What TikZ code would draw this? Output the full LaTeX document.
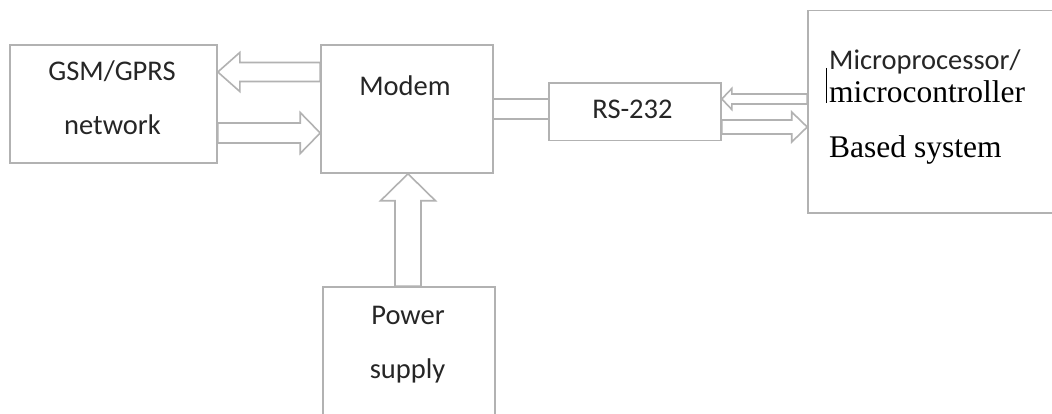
\documentclass[tikz,border=0pt]{standalone}
\usepackage{fontspec}
\setmainfont{Carlito}
\newfontfamily\timesfont{Liberation Serif}
\usepackage{tikz}
\usetikzlibrary{calc}
\usepackage{xcolor}

\definecolor{boxgray}{RGB}{178,178,178}
\definecolor{txtgray}{RGB}{38,38,38}

\tikzset{
    blockbox/.style={draw=boxgray, line width=1.6pt, rectangle, inner sep=0pt},
    blockarr/.style={draw=boxgray, line width=1.6pt, line join=miter, fill=white},
    conn/.style={draw=boxgray, line width=1.6pt},
    lbl/.style={font=\fontsize{28.5}{34}\selectfont, text=txtgray, inner sep=0pt, anchor=base},
    serlbl/.style={font=\timesfont\fontsize{31.5}{36}\selectfont, text=black, inner sep=0pt, anchor=base west}
}

% hollow block arrow: tail, tip, shaft half width, head half width, head length
\newcommand{\hollowarrow}[5]{%
    \coordinate (at) at (#1);
    \coordinate (ah) at (#2);
    \coordinate (hb) at ($(ah)!#5!(at)$);
    \draw[blockarr] (ah) -- ($(hb)!#4!90:(ah)$) -- ($(hb)!#3!90:(ah)$) -- ($(at)!#3!90:(ah)$)
        -- ($(at)!#3!-90:(ah)$) -- ($(hb)!#3!-90:(ah)$) -- ($(hb)!#4!-90:(ah)$) -- cycle;
}

\begin{document}
\begin{tikzpicture}[x=1pt, y=-1pt]
    \clip (0,0) rectangle (1052,414);
    \fill[white] (0,0) rectangle (1052,414);

    % Boxes
    \node[blockbox, minimum width=207pt, minimum height=118pt] (gsm) at (113.5,104) {};
    \node[blockbox, minimum width=172pt, minimum height=128pt] (modem) at (407,109) {};
    \node[blockbox, minimum width=172pt, minimum height=57.4pt] (rs) at (635,112) {};
    \node[blockbox, minimum width=254pt, minimum height=202.6pt] (micro) at (935,112) {};
    \node[blockbox, minimum width=172pt, minimum height=138pt] (power) at (409,356) {};

    % Rows and columns of the arrows
    \coordinate (r1) at (0,72);
    \coordinate (r2) at (0,133);
    \coordinate (r3) at (0,99.3);
    \coordinate (r4) at (0,119.3);
    \coordinate (r5) at (0,99);
    \coordinate (r6) at (0,127);
    \coordinate (c1) at (408,0);

    % Modem <-> GSM/GPRS network
    \hollowarrow{modem.west |- r1}{gsm.east |- r1}{9.5pt}{19.5pt}{22pt}
    \hollowarrow{gsm.east |- r2}{modem.west |- r2}{10pt}{20.5pt}{20pt}

    % Modem -- RS-232
    \draw[conn] (modem.east |- r3) -- (rs.west |- r3);
    \draw[conn] (modem.east |- r4) -- (rs.west |- r4);

    % RS-232 <-> microcontroller
    \hollowarrow{micro.west |- r5}{rs.east |- r5}{5pt}{10.5pt}{10pt}
    \hollowarrow{rs.east |- r6}{micro.west |- r6}{7pt}{15pt}{15.5pt}

    % Power supply -> Modem
    \hollowarrow{power.north -| c1}{modem.south -| c1}{13pt}{27.5pt}{27pt}

    % Labels
    \foreach \x/\y/\t/\n in {
        112/80.7/{GSM/GPRS}/gsmA, 112.5/134.3/network/gsmB,
        405/95.7/Modem/modemA, 632.5/118.3/RS-232/rsA,
        408/324/Power/powerA, 407.5/378.3/supply/powerB
    } {
        \node[lbl] (\n) at (\x,\y) {\t};
    }
    \node[lbl, anchor=base west] (microA) at (829,70) {Microprocessor/};
    \node[serlbl] (microB) at (829,103) {microcontroller};
    \node[serlbl] (microC) at (829,158) {Based system};

    % text cursor
    \draw[black, line width=1.2pt] (826.7,68) -- (826.7,103);
\end{tikzpicture}
\end{document}
